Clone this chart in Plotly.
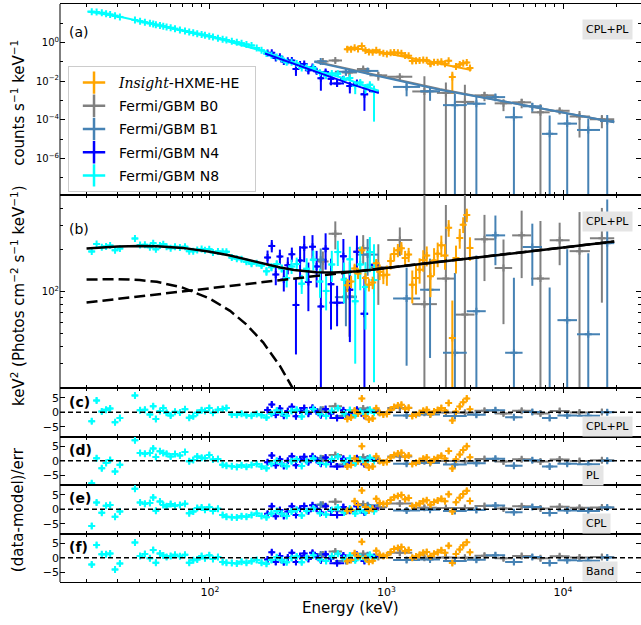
import plotly.graph_objects as go
from plotly.subplots import make_subplots

# ---------------- values ----------------
# Fermi/GBM N8 (cyan)
n8_e = [21.4, 22.8, 24.4, 25.8, 27.2, 29.0, 30.9, 37.6, 40.2, 42.8, 45.7, 47.7, 49.4, 52.1, 54.4,
        56.8, 59.9, 63.4, 67.6, 72.2, 76.3, 80.4, 84.7, 89.7, 93.7, 99.1, 104, 111, 118, 124, 133,
        142, 151, 161, 172, 184, 196, 209, 223, 239, 255, 272, 290, 310, 331, 353, 385, 420, 455,
        490, 530, 575, 620, 665, 710, 760, 805, 850]
n8_cnt = [39.8, 38.0, 34.7, 30.9, 28.2, 24.5, 21.4, 14.8, 12.9, 11.2, 9.91, 9.12, 8.51, 7.66, 7.03,
          6.43, 5.79, 5.19, 4.55, 4.00, 3.57, 3.22, 2.90, 2.59, 2.38, 2.13, 1.92, 1.69, 1.50, 1.36,
          1.19, 1.04, 0.918, 0.805, 0.708, 0.525, 0.398, 0.268, 0.222, 0.181, 0.145, 0.0952, 0.0956,
          0.0825, 0.0488, 0.0522, 0.0489, 0.0270, 0.0193, 0.0251, 0.0245, 0.0122, 0.0144, 0.00582,
          0.0085, 0.00462, 0.00647, 0.00298]
n8_cnt_err = [0.68, 0.65, 0.59, 0.53, 0.48, 0.42, 0.36, 0.35, 0.31, 0.27, 0.24, 0.22, 0.20, 0.18,
              0.17, 0.15, 0.14, 0.12, 0.11, 0.095, 0.087, 0.079, 0.072, 0.065, 0.060, 0.055, 0.061,
              0.054, 0.049, 0.045, 0.040, 0.036, 0.038, 0.034, 0.030, 0.023, 0.018, 0.020, 0.015,
              0.011, 0.0097, 0.014, 0.011, 0.0092, 0.0075, 0.010, 0.008, 0.0063, 0.0053, 0.0063,
              0.005, 0.004, 0.0034, 0.0037, 0.003, 0.0024, 0.0019, 0.0029]
n8_nufnu = [195, 221, 209, 212, 215, 199, 205, 242, 217, 218, 209, 224, 202, 215, 220, 211, 206,
            211, 208, 211, 196, 196, 200, 203, 199, 202, 192, 195, 194, 194, 176, 173, 171, 164,
            159, 160, 154, 140, 150, 158, 147, 125, 152, 158, 114, 146, 170, 118, 101, 157, 193,
            122, 171, 85, 157, 108, 193, 121]
n8_nufnu_err = [3.5, 3.5, 3.5, 3.5, 3.5, 3.5, 3.5, 5, 5, 5, 5, 5, 5, 5, 5, 5, 5, 5, 5, 5, 5, 5, 5,
                5, 5, 5, 6, 6, 6, 6, 6, 6, 7, 7, 7, 7, 7, 10, 10, 10, 10, 18, 18, 18, 18, 28, 28,
                28, 28, 40, 40, 40, 40, 55, 55, 55, 55, 99]
n8_res_cplpl = [-3.1, 4.1, 0.3, 0.9, 1.3, -3.5, -2.0, 5.8, 0.7, 0.9, -0.8, 2.1, -2.3, 0.4, 1.5,
                -0.2, -1.1, 0.2, -0.1, 1.0, -1.9, -1.4, -0.2, 0.7, 0.4, 1.5, -0.2, 0.9, 1.1, 1.5,
                -0.8, -0.9, -0.5, -1.0, -1.2, -0.6, -1.0, -1.8, -0.5, 0.6, -0.3, -1.2, 0.4, 0.9,
                -1.5, 0.2, 1.1, -0.7, -1.3, 0.5, 1.4, -0.4, 0.8, -1.0, 0.3, -0.6, 0.9, -0.2]
n8_res_pl = [-7.8, 0.9, -2.6, -0.8, 0.3, -3.7, -1.4, 7.1, 2.7, 2.4, 2.7, 4.2, 1.3, 3.3, 2.7, 2.4,
             1.5, 2.3, 1.8, 3.0, -0.2, 0.3, 1.5, 1.0, 0.9, 2.0, 0.4, 0.6, -1.4, -1.7, -1.9, -2.2,
             -1.6, -2.1, -1.5, -1.1, -2.0, -2.6, -1.0, 0.0, -1.1, -1.9, -0.2, 0.4, -1.8, -0.2, 0.8,
             -0.8, -1.2, 0.6, 1.5, -0.3, 0.9, -0.9, 0.4, -0.5, 1.0, -0.1]
n8_res_cpl = [-5.8, 2.3, -1.2, 1.2, 1.5, -2.6, -0.8, 7.1, 2.3, 1.9, 2.2, 4.1, -0.5, 2.7, 1.5, 1.0,
              1.8, 1.2, 1.5, 1.9, -1.4, -0.8, 0.4, 0.6, -0.2, 0.8, -0.6, 0.2, -2.0, -2.6, -2.8,
              -2.9, -2.4, -2.6, -2.0, -1.5, -2.3, -2.8, -1.5, -0.6, -1.6, -2.3, -0.8, -0.2, -2.2,
              -0.6, 0.3, -1.4, -1.8, -0.3, 0.6, -1.1, 0.2, -1.5, -0.4, -1.0, 0.3, -0.7]
n8_res_band = [-2.3, 4.4, 1.2, 1.2, 1.5, -4.1, -2.0, 5.3, 0.6, 1.3, -0.2, 2.7, -1.7, 1.5, 0.8, 0.3,
               0.6, 1.0, 0.5, 1.0, -1.7, -0.9, -0.6, 0.6, -0.2, 0.9, -0.4, 0.3, -1.5, -1.7, -1.8,
               -2.0, -1.4, -1.7, -1.2, -0.8, -1.7, -2.1, -0.8, 0.2, -0.9, -1.6, -0.1, 0.4, -1.6,
               0.0, 0.9, -0.6, -1.1, 0.6, 1.4, -0.3, 0.8, -0.9, 0.3, -0.5, 1.0, -0.2]

# Fermi/GBM N4 (blue)
n4_e = [212, 224, 236, 249, 262, 276, 291, 307, 324, 342, 361, 381, 402, 425, 452, 485, 525, 570,
        620, 680, 750, 850]
n4_de = [6, 6, 6, 7, 7, 7, 8, 8, 9, 9, 10, 10, 11, 12, 14, 18, 50, 22, 25, 30, 38, 55]
n4_cnt = [0.288, 0.295, 0.158, 0.186, 0.105, 0.115, 0.117, 0.0427, 0.0741, 0.0776, 0.0363, 0.055,
          0.0331, 0.0141, 0.0302, 0.0132, 0.00759, 0.0126, 0.00562, 0.00794, 0.00209, 0.00302]
n4_cnt_err = [0.036, 0.030, 0.026, 0.023, 0.019, 0.0165, 0.0139, 0.024, 0.020, 0.0168, 0.014,
              0.0118, 0.0098, 0.0109, 0.0089, 0.0071, 0.0025, 0.0043, 0.0033, 0.0025, 0.0018,
              0.0012]
n4_nufnu = [176, 214, 133, 179, 122, 155, 186, 80, 168, 208, 117, 211, 152, 78, 204, 113, 83, 180,
            103, 194, 69, 156]
n4_nufnu_err = [22, 22, 22, 22, 22, 22, 22, 45, 45, 45, 45, 45, 45, 60, 60, 60, 27, 60, 60, 60,
                60, 60]
n4_res_cplpl = [0.8, 2.7, -0.9, 1.3, -1.2, 0.4, 1.9, -1.4, 0.6, 1.5, -0.5, 1.6, 0.3, -1.0, 1.1,
                -0.4, -2.0, 0.7, -0.6, 0.9, -1.2, 0.2]
n4_res_pl = [-0.5, 1.8, -1.6, 0.5, -1.8, 0.0, 1.6, -1.6, 0.5, 1.4, -0.5, 1.6, 0.3, -1.0, 1.1,
             -0.4, -2.0, 0.7, -0.6, 0.9, -1.2, 0.2]
n4_res_cpl = [-1.6, 1.0, -2.4, -0.3, -2.3, -0.8, 1.0, -2.0, 0.2, 1.1, -0.7, 1.4, 0.2, -1.1, 1.0,
              -0.4, -2.0, 0.8, -0.5, 1.0, -1.1, 0.3]
n4_res_band = [-0.6, 1.9, -1.5, 0.6, -1.6, 0.1, 1.7, -1.5, 0.6, 1.5, -0.4, 1.7, 0.4, -0.9, 1.2,
               -0.3, -1.9, 0.8, -0.5, 1.0, -1.1, 0.3]

# Insight-HXMT HE (orange)
he_e = [600, 630, 660, 690, 725, 760, 795, 835, 875, 915, 960, 1005, 1055, 1105, 1160, 1215, 1275,
        1335, 1400, 1470, 1540, 1615, 1690, 1775, 1860, 1950, 2045, 2145, 2250, 2360, 2475, 2600,
        2720, 2850, 2970]
he_cnt = [0.450, 0.454, 0.538, 0.471, 0.659, 0.390, 0.325, 0.313, 0.395, 0.320, 0.279, 0.256,
          0.296, 0.305, 0.294, 0.277, 0.214, 0.205, 0.112, 0.114, 0.119, 0.126, 0.123, 0.0793,
          0.0957, 0.0971, 0.101, 0.0789, 0.114, 0.0166, 0.0578, 0.0740, 0.0847, 0.0923, 0.0484]
he_cnt_err = [0.048, 0.046, 0.044, 0.042, 0.040, 0.038, 0.035, 0.033, 0.030, 0.041, 0.038, 0.042,
              0.039, 0.036, 0.033, 0.030, 0.027, 0.025, 0.030, 0.027, 0.025, 0.0225, 0.0206,
              0.023, 0.0214, 0.0195, 0.0178, 0.0166, 0.0155, 0.0143, 0.0132, 0.0121, 0.0112,
              0.0105, 0.0095]
he_nufnu = [111, 118, 147, 135, 199, 125, 112, 116, 160, 139, 131, 132, 166, 187, 199, 206, 175,
            185, 112, 125, 144, 169, 182, 129, 168, 188, 216, 182, 289, 46, 175, 244, 305, 358, 207]
he_nufnu_err = [12, 12, 12, 12, 12, 12, 12, 12, 12, 18, 18, 22, 22, 22, 22, 22, 22, 22, 30, 30, 30,
                30, 30, 38, 38, 38, 38, 38, 40, 40, 40, 40, 40, 40, 40]
he_res_cplpl = [-2.3, -1.8, 0.6, -0.4, 4.8, -1.4, -2.5, -2.2, 1.4, -0.3, -0.8, -0.6, 0.9, 1.8, 2.3,
                2.6, 1.2, 1.6, -1.3, -0.9, -0.3, 0.5, 0.9, -0.7, 0.3, 0.8, 1.5, 0.6, 3.2, -2.9,
                0.3, 2.0, 3.5, 4.8, 1.0]
he_res_pl = [-2.0, -1.5, 0.8, -0.2, 5.0, -1.2, -2.3, -2.0, 1.6, -0.1, -0.6, -0.4, 1.1, 2.0, 2.5,
             2.8, 1.4, 1.8, -1.1, -0.7, -0.1, 0.7, 1.1, -0.5, 0.5, 1.0, 1.7, 0.8, 3.4, -2.7, 0.5,
             2.2, 3.7, 5.0, 1.2]
he_res_cpl = [-0.5, -0.3, 2.8, 1.5, 6.5, 0.8, -0.4, 0.2, 3.6, 2.2, 1.8, 2.0, 3.2, 4.2, 4.6, 4.9,
              3.5, 3.9, 1.1, 1.4, 2.0, 2.8, 3.1, 1.6, 2.5, 3.0, 3.6, 2.8, 5.2, -0.8, 2.4, 4.0, 5.3,
              6.4, 2.9]
he_res_band = [-1.2, -0.8, 1.6, 0.5, 5.5, -0.2, -1.4, -1.0, 2.4, 1.0, 0.6, 0.9, 2.0, 3.0, 3.4, 3.7,
               2.3, 2.7, 0.0, 0.4, 1.0, 1.7, 2.0, 0.5, 1.4, 1.9, 2.6, 1.7, 4.2, -1.8, 1.3, 2.9, 4.3,
               5.4, 1.9]

# Fermi/GBM B0 (grey)
b0_e = [436, 513, 617, 738, 899, 1190, 1640, 2170, 2780, 3590, 4600, 5830, 7450, 9570, 12400, 16600]
b0_lo = [405, 470, 560, 680, 800, 1010, 1400, 1930, 2450, 3150, 4100, 5150, 6600, 8400, 10900, 14200]
b0_hi = [470, 560, 680, 800, 1010, 1400, 1930, 2450, 3150, 4100, 5150, 6600, 8400, 10900, 14200, 19500]
b0_cnt = [0.105, 0.118, 0.0282, 0.0429, 0.0200, 0.0170, 0.00293, 0.00247, 0.000845, 0.00184,
          0.000710, 0.000800, 0.000243, 0.000292, 0.000148, 0.000106]
b0_cnt_err = [0.0191, 0.027, 0.0138, 0.0104, 0.00934, 0.00398, 0.0152, 0.00599, 0.0056, 0.000925,
              0.000431, 0.000408, 0.000391, 0.0000993, 0.000136, 0.0000698]
b0_nufnu = [165, 262, 92, 206, 150, 236, 81, 124, 68, 239, 148, 255, 124, 235, 196, 243]
b0_nufnu_err = [30, 60, 45, 50, 70, 55, 420, 300, 450, 120, 90, 130, 200, 80, 180, 160]
b0_res_cplpl = [0.9, 2.1, -1.0, 1.3, 0.1, 1.5, -0.2, -0.1, -0.2, 0.5, -0.4, 0.5, -0.4, 0.4, -0.1, 0.1]
b0_res_pl = [0.8, 2.0, -1.1, 1.3, 0.1, 1.5, -0.2, -0.1, -0.2, 0.6, -0.3, 0.5, -0.3, 0.4, -0.1, 0.2]
b0_res_cpl = [1.6, 2.6, -0.4, 1.8, 0.7, 2.0, 0.5, 0.4, 0.4, 1.1, 0.3, 1.0, 0.3, 0.9, 0.5, 0.6]
b0_res_band = [1.1, 2.2, -0.8, 1.4, 0.3, 1.7, 0.0, 0.1, 0.0, 0.7, -0.2, 0.6, -0.2, 0.5, 0.1, 0.3]

# Fermi/GBM B1 (steelblue)
b1_e = [424, 589, 782, 1300, 1765, 2440, 3230, 4140, 5270, 6700, 8400, 10560, 13900, 17800]
b1_lo = [390, 510, 680, 1090, 1550, 2090, 2850, 3650, 4700, 5900, 7600, 9300, 12000, 16200]
b1_hi = [460, 680, 900, 1550, 2010, 2850, 3650, 4700, 5900, 7600, 9300, 12000, 16200, 19500]
b1_cnt = [0.105, 0.0308, 0.034, 0.00504, 0.00299, 0.000573, 0.000679, 0.00149, 0.000135, 0.000501,
          0.0000186, 0.0000631, 0.0000296, 0.0000861]
b1_cnt_err = [0.0217, 0.0119, 0.0101, 0.0034, 0.00203, 0.00159, 0.00104, 0.000585, 0.000337,
              0.000239, 0.000148, 0.000143, 0.0000844, 0.0000922]
b1_nufnu = [170, 91, 185, 89, 103, 36, 72, 255, 36, 210, 12, 62, 49, 224]
b1_nufnu_err = [35, 35, 55, 60, 70, 100, 110, 100, 90, 100, 95, 140, 140, 240]
b1_res_cplpl = [0.9, -1.3, 0.8, -1.1, -0.8, -1.3, -0.9, 0.7, -1.7, 0.1, -2.0, -1.1, -1.2, 0.0]
b1_res_pl = [0.9, -1.3, 0.8, -1.0, -0.8, -1.3, -0.9, 0.7, -1.7, 0.2, -2.0, -1.0, -1.2, 0.0]
b1_res_cpl = [1.6, -0.7, 1.4, -0.4, -0.2, -0.6, -0.3, 1.3, -1.0, 0.8, -1.3, -0.4, -0.6, 0.6]
b1_res_band = [1.1, -1.1, 0.9, -0.8, -0.6, -1.1, -0.7, 0.9, -1.5, 0.3, -1.8, -0.9, -1.0, 0.1]

# folded model curves, panel (a)
b0_mod_e = [405, 1000, 2000, 5000, 10000, 19500]
b0_mod = [0.1, 0.0158, 0.00389, 0.000794, 0.00024, 0.0000741]
b1_mod_e = [390, 1000, 2000, 5000, 10000, 19500]
b1_mod = [0.1, 0.0148, 0.00363, 0.000776, 0.000234, 0.0000741]
n4_mod_e = [205, 300, 420, 600, 850, 905]
n4_mod = [0.27, 0.0813, 0.0263, 0.00813, 0.00282, 0.0024]
n8_mod_e = [20.2, 30, 50, 100, 200, 300, 420, 600, 850, 905]
n8_mod = [40.7, 22.9, 8.26, 2.09, 0.363, 0.0813, 0.0316, 0.0126, 0.0038, 0.0032]
he_mod_e = [590, 800, 1000, 1300, 1600, 2000, 2500, 3030]
he_mod = [0.575, 0.407, 0.282, 0.174, 0.115, 0.0776, 0.0525, 0.0375]

# unfolded model, panel (b)
mod_e = [20, 30, 40, 50, 70, 100, 130, 160, 200, 250, 300, 400, 500, 700, 1000, 2000, 5000, 10000, 19500]
mod_tot = [205, 212, 213.5, 213, 207, 194, 182, 171, 160, 149, 143, 138, 137, 140, 148, 164, 188, 208, 230]
cpl_e = [20, 30, 40, 50, 70, 100, 130, 160, 200, 250, 300, 350]
cpl_val = [122, 123, 121, 117.5, 106.7, 88.7, 72.4, 58.1, 42.8, 28.7, 19.1, 12.6]
pl_e = [20, 19500]
pl_val = [83.2, 230]

# ---------------- figure ----------------
fig = make_subplots(rows=6, cols=1, shared_xaxes=True, vertical_spacing=0,
                    row_heights=[191, 193, 48.5, 48.5, 48.5, 48.5])


def xerr(color, e, pct=None, half=None, lo=None, hi=None):
    if pct is not None:
        return dict(type="percent", value=pct, thickness=2, width=0, color=color)
    if half is not None:
        return dict(type="data", array=half, thickness=2, width=0, color=color)
    return dict(type="data", symmetric=False,
                array=[h - c for h, c in zip(hi, e)],
                arrayminus=[c - l for l, c in zip(lo, e)],
                thickness=2, width=0, color=color)


def pts(row, x, y, yerr, color, ex):
    if isinstance(yerr, (int, float)):
        ey = dict(type="constant", value=yerr, thickness=2, width=0, color=color)
    else:
        ey = dict(type="data", array=yerr, thickness=2, width=0, color=color)
    fig.add_trace(go.Scatter(x=x, y=y, mode="markers",
                             marker=dict(symbol="cross-thin", size=5, color=color,
                                         line=dict(width=2, color=color)),
                             error_x=ex, error_y=ey, showlegend=False, hoverinfo="skip"),
                  row=row, col=1)


dets = [
    ("grey", b0_e, xerr("grey", b0_e, lo=b0_lo, hi=b0_hi), b0_cnt, b0_cnt_err, b0_nufnu, b0_nufnu_err,
     [b0_res_cplpl, b0_res_pl, b0_res_cpl, b0_res_band]),
    ("steelblue", b1_e, xerr("steelblue", b1_e, lo=b1_lo, hi=b1_hi), b1_cnt, b1_cnt_err, b1_nufnu,
     b1_nufnu_err, [b1_res_cplpl, b1_res_pl, b1_res_cpl, b1_res_band]),
    ("blue", n4_e, xerr("blue", n4_e, half=n4_de), n4_cnt, n4_cnt_err, n4_nufnu, n4_nufnu_err,
     [n4_res_cplpl, n4_res_pl, n4_res_cpl, n4_res_band]),
    ("cyan", n8_e, xerr("cyan", n8_e, pct=4), n8_cnt, n8_cnt_err, n8_nufnu, n8_nufnu_err,
     [n8_res_cplpl, n8_res_pl, n8_res_cpl, n8_res_band]),
    ("orange", he_e, xerr("orange", he_e, pct=2.5), he_cnt, he_cnt_err, he_nufnu, he_nufnu_err,
     [he_res_cplpl, he_res_pl, he_res_cpl, he_res_band]),
]

for color, e, ex, cnt, cnt_err, nf, nf_err, res in dets:
    pts(1, e, cnt, cnt_err, color, ex)
    pts(2, e, nf, nf_err, color, ex)
    for k in range(4):
        pts(3 + k, e, res[k], 1, color, ex)

# model lines in panel (a)
for me, mv, c in [(n8_mod_e, n8_mod, "cyan"), (n4_mod_e, n4_mod, "blue"), (he_mod_e, he_mod, "orange"),
                  (b0_mod_e, b0_mod, "grey"), (b1_mod_e, b1_mod, "steelblue")]:
    fig.add_trace(go.Scatter(x=me, y=mv, mode="lines", line=dict(color=c, width=2),
                             showlegend=False, hoverinfo="skip"), row=1, col=1)

# model in panel (b)
fig.add_trace(go.Scatter(x=cpl_e, y=cpl_val, mode="lines", line=dict(color="black", width=2.5, dash="11px,5px"),
                         showlegend=False, hoverinfo="skip"), row=2, col=1)
fig.add_trace(go.Scatter(x=pl_e, y=pl_val, mode="lines", line=dict(color="black", width=2.5, dash="11px,5px"),
                         showlegend=False, hoverinfo="skip"), row=2, col=1)
fig.add_trace(go.Scatter(x=mod_e, y=mod_tot, mode="lines", line=dict(color="black", width=2.5),
                         showlegend=False, hoverinfo="skip"), row=2, col=1)

# legend entries
leg = [("<span style='font-family:DejaVu Serif'><i>Insight</i></span>-HXME-HE&nbsp;&nbsp;", "orange"),
       ("Fermi/GBM B0", "grey"), ("Fermi/GBM B1", "steelblue"),
       ("Fermi/GBM N4", "blue"), ("Fermi/GBM N8", "cyan")]
for i, (name, c) in enumerate(leg):
    fig.add_trace(go.Scatter(x=[None], y=[None], mode="markers", name=name, legendgroup="g%d" % i,
                             marker=dict(symbol="cross-thin", size=16, color=c, line=dict(width=2.5, color=c))),
                  row=1, col=1)

# left spine (right one falls outside the crop)
fig.add_shape(type="line", xref="paper", yref="paper", x0=0, x1=0, y0=0, y1=1,
              line=dict(color="black", width=1))
for r in range(3, 7):
    fig.add_hline(y=0, line=dict(color="black", width=1.5, dash="5px,3px"), row=r, col=1)

# axes
minor_x = [m * 10 ** k for k in (1, 2, 3) for m in range(2, 10)] + [20000]
for r in range(1, 7):
    fig.update_xaxes(type="log", range=[1.1506, 4.4417], showgrid=False, zeroline=False,
                     showline=True, linecolor="black", linewidth=1, mirror="allticks",
                     ticks="inside", ticklen=5, tickwidth=1, tickcolor="black",
                     tickvals=[100, 1000, 10000],
                     ticktext=["10<sup>2</sup>", "10<sup>3</sup>", "10<sup>4</sup>"],
                     showticklabels=(r == 6), tickfont=dict(size=11), automargin=False,
                     minor=dict(ticks="inside", ticklen=3, tickwidth=1, tickcolor="black",
                                tickvals=minor_x, showgrid=False),
                     row=r, col=1)

yax = dict(showgrid=False, zeroline=False, showline=False, mirror="allticks", automargin=False,
           ticks="inside", ticklen=5, tickwidth=1, tickcolor="black")
fig.update_yaxes(type="log", range=[-7.9, 2],
                 tickvals=[1e-6, 1e-4, 1e-2, 1, 100],
                 ticktext=["10<sup>−6</sup>", "10<sup>−4</sup>", "10<sup>−2</sup>", "10<sup>0</sup>", "10<sup>2</sup>"],
                 tickfont=dict(size=10),
                 minor=dict(ticks="inside", ticklen=3, tickcolor="black", tickvals=[1e-7, 1e-5, 1e-3, 0.1, 10]),
                 row=1, col=1, **yax)
fig.update_yaxes(type="log", range=[1.30103, 2.69897], tickvals=[100], ticktext=["10<sup>2</sup>"],
                 tickfont=dict(size=10),
                 minor=dict(ticks="inside", ticklen=3, tickcolor="black",
                            tickvals=[20, 30, 40, 50, 60, 70, 80, 90, 200, 300, 400]),
                 row=2, col=1, **yax)
for r in range(3, 7):
    fig.update_yaxes(range=[-8.4, 8.4], tickvals=[-5, 0, 5], tickfont=dict(size=11),
                     row=r, col=1, **yax)

# text
ann = []
for txt, y, bold in [("(a)", 0.9516, False), ("(b)", 0.6107, False), ("(c)", 0.3114, True),
                     ("(d)", 0.2284, True), ("(e)", 0.1453, True), ("(f)", 0.0606, True)]:
    ann.append(dict(text=("<b>%s</b>" % txt) if bold else txt, x=0.012, y=y, xref="paper", yref="paper",
                    xanchor="left", yanchor="middle", showarrow=False, font=dict(size=14)))
for txt, y in [("CPL+PL", 0.9559), ("CPL+PL", 0.6237), ("CPL+PL", 0.269), ("PL", 0.1851),
               ("CPL", 0.1012), ("Band", 0.0182)]:
    ann.append(dict(text=txt, x=0.8985, y=y, xref="paper", yref="paper", xanchor="left", yanchor="middle",
                    showarrow=False, bgcolor="#e5e5e5", borderpad=3, font=dict(size=11)))
for txt, y in [("counts s<sup>−1</sup> keV<sup>−1</sup>", 0.829),
               ("keV<sup>2</sup> (Photos cm<sup>−2</sup> s<sup>−1</sup> keV<sup>−1</sup>)", 0.4965),
               ("(data-model)/err", 0.126)]:
    ann.append(dict(text=txt, x=-0.0723, y=y, xref="paper", yref="paper", xanchor="center",
                    yanchor="middle", textangle=-90, showarrow=False, font=dict(size=15)))
ann.append(dict(text="Energy (keV)", x=0.5, y=-(608 - 582) / 578.0, xref="paper", yref="paper",
                xanchor="center", yanchor="middle", showarrow=False, font=dict(size=15)))

fig.update_layout(
    width=641, height=625,
    margin=dict(l=60, r=0, t=4, b=43, autoexpand=False),
    plot_bgcolor="white", paper_bgcolor="white",
    font=dict(family="DejaVu Sans", color="black", size=11),
    annotations=ann,
    showlegend=True,
    legend=dict(x=0.0138, y=0.8927, xanchor="left", yanchor="top", font=dict(size=14),
                bgcolor="rgba(255,255,255,0.8)", bordercolor="#cccccc", borderwidth=1,
                itemsizing="trace", itemwidth=40, tracegroupgap=2),
)

# the page's default 8px body margin would shift the whole figure
fig.write_html("out.html", config={"displayModeBar": False},
               post_script="document.body.style.margin='0px';")
